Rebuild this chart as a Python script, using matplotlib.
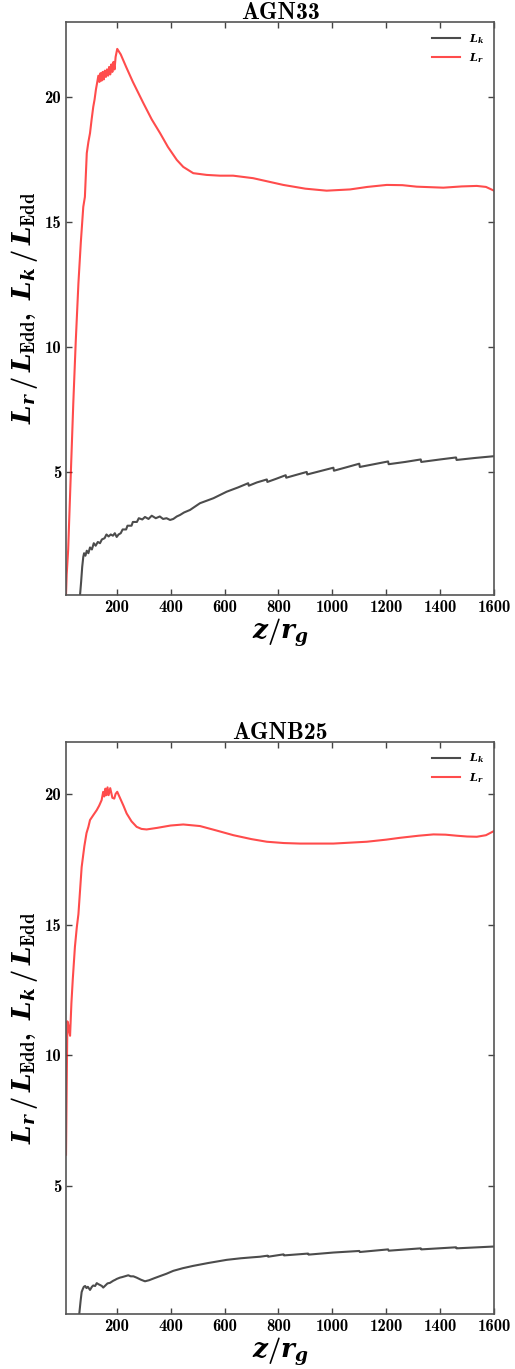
import matplotlib
matplotlib.use("Agg")
import matplotlib.pyplot as plt

plt.rcParams['mathtext.fontset'] = 'custom'
plt.rcParams['mathtext.rm'] = 'cmb10'
plt.rcParams['mathtext.it'] = 'DejaVu Serif:italic:bold'
plt.rcParams['mathtext.bf'] = 'cmb10'

# AGN33
agn33_lr_z = [12, 14.5, 20, 30, 39, 48, 58, 67, 76, 82, 89, 95, 101, 107, 113, 118, 123, 128, 132,
              136, 140, 144, 148, 152, 156, 160, 164, 168, 172, 176, 180, 184, 188, 192, 196, 202,
              215, 235, 260, 299, 330, 361, 390, 423, 447, 484, 534, 583, 632, 706, 760, 818, 900,
              979, 1066, 1130, 1202, 1260, 1313, 1412, 1480, 1536, 1570, 1600]
agn33_lr = [0.1, 0.9, 1.9, 5.0, 7.76, 10.2, 12.55, 14.2, 15.6, 16.0, 17.75, 18.2, 18.55, 19.1, 19.6,
            19.9, 20.3, 20.6, 20.85, 20.6, 20.95, 20.65, 21.0, 20.7, 21.05, 20.8, 21.1, 20.85, 21.2,
            20.9, 21.3, 21.0, 21.4, 21.1, 21.6, 21.92, 21.7, 21.2, 20.6, 19.75, 19.1, 18.55, 18.0,
            17.48, 17.2, 16.95, 16.88, 16.85, 16.85, 16.75, 16.62, 16.48, 16.33, 16.25, 16.3, 16.4,
            16.48, 16.47, 16.41, 16.37, 16.42, 16.44, 16.4, 16.25]
agn33_lk_z = [64, 68, 72, 76, 79, 84, 89, 95, 101, 108, 115, 122, 130, 138, 145, 155, 162, 170, 178,
              186, 193, 200, 207, 215, 222, 235, 240, 255, 260, 275, 282, 295, 305, 318, 330, 345,
              360, 372, 385, 398, 410, 423, 435, 450, 472, 509, 559, 608, 650, 688, 690, 720, 757,
              759, 790, 827, 829, 865, 905, 907, 950, 1004, 1006, 1050, 1100, 1102, 1150, 1207, 1209,
              1270, 1328, 1330, 1400, 1459, 1461, 1530, 1600]
agn33_lk = [0.08, 0.6, 1.2, 1.6, 1.75, 1.65, 1.85, 1.75, 1.98, 1.9, 2.15, 2.05, 2.2, 2.15, 2.3, 2.35,
            2.5, 2.42, 2.5, 2.45, 2.55, 2.4, 2.5, 2.55, 2.7, 2.7, 2.85, 2.85, 3.0, 3.0, 3.15, 3.1, 3.2,
            3.12, 3.25, 3.15, 3.22, 3.12, 3.15, 3.08, 3.12, 3.22, 3.28, 3.38, 3.48, 3.75, 3.95, 4.21,
            4.38, 4.55, 4.45, 4.58, 4.7, 4.6, 4.72, 4.87, 4.77, 4.88, 5.0, 4.9, 5.02, 5.17, 5.05, 5.18,
            5.33, 5.2, 5.3, 5.42, 5.31, 5.4, 5.5, 5.4, 5.5, 5.58, 5.48, 5.56, 5.63]

# AGNB25
agnb25_lr_z = [12, 14, 17, 20, 24, 27, 32, 37, 45, 52, 58, 64, 70, 80, 88, 95, 101, 114, 126, 135,
               144, 150, 154, 158, 162, 166, 170, 176, 184, 191, 196, 202, 212, 225, 237, 255, 274,
               292, 311, 350, 400, 447, 509, 570, 633, 700, 757, 820, 880, 1004, 1128, 1200, 1251,
               1320, 1375, 1420, 1462, 1500, 1536, 1570, 1600]
agnb25_lr = [6.2, 8.3, 11.3, 11.2, 10.9, 10.75, 12.0, 12.9, 14.15, 14.9, 15.4, 16.3, 17.2, 18.0, 18.5,
             18.74, 19.0, 19.2, 19.38, 19.55, 19.76, 20.08, 19.9, 20.2, 19.95, 20.25, 19.95, 20.22,
             19.85, 19.82, 20.0, 20.08, 19.85, 19.55, 19.25, 18.95, 18.74, 18.66, 18.64, 18.7, 18.79,
             18.83, 18.77, 18.6, 18.42, 18.27, 18.17, 18.12, 18.1, 18.1, 18.17, 18.25, 18.32, 18.4,
             18.45, 18.44, 18.4, 18.37, 18.36, 18.42, 18.58]
agnb25_lk_z = [61, 66, 70, 74, 78, 83, 88, 93, 101, 108, 113, 120, 126, 132, 138, 145, 150, 158, 166,
               175, 187, 195, 200, 212, 220, 230, 243, 252, 262, 274, 290, 305, 320, 340, 361, 385,
               410, 445, 484, 540, 608, 660, 695, 732, 760, 762, 819, 821, 910, 912, 1004, 1100, 1102,
               1207, 1209, 1328, 1330, 1459, 1461, 1600]
agnb25_lk = [0.1, 0.6, 0.95, 1.06, 1.15, 1.18, 1.1, 1.15, 1.03, 1.15, 1.2, 1.18, 1.29, 1.25, 1.22,
             1.18, 1.12, 1.2, 1.28, 1.3, 1.38, 1.42, 1.45, 1.5, 1.52, 1.55, 1.59, 1.55, 1.55, 1.5,
             1.42, 1.36, 1.4, 1.48, 1.56, 1.65, 1.76, 1.86, 1.95, 2.06, 2.18, 2.24, 2.27, 2.3, 2.34,
             2.3, 2.39, 2.35, 2.42, 2.38, 2.46, 2.52, 2.48, 2.58, 2.53, 2.62, 2.58, 2.66, 2.62, 2.69]

xticks = [200, 400, 600, 800, 1000, 1200, 1400, 1600]
yticks = [5, 10, 15, 20]

fig = plt.figure(figsize=(5.15, 13.69), dpi=100)
ax1 = fig.add_axes([0.1282, 0.5654, 0.8311, 0.4186])
ax2 = fig.add_axes([0.1282, 0.0400, 0.8311, 0.4183])

panels = [
    (ax1, 'AGN33', agn33_lk_z, agn33_lk, agn33_lr_z, agn33_lr, (0.08, 23)),
    (ax2, 'AGNB25', agnb25_lk_z, agnb25_lk, agnb25_lr_z, agnb25_lr, (0.1, 22)),
]

for ax, name, zk, lk, zr, lr, ylim in panels:
    ax.plot(zk, lk, color='k', alpha=0.7, lw=1.5, label=r'$L_k$')
    ax.plot(zr, lr, color='r', alpha=0.7, lw=1.5, label=r'$L_r$')
    ax.set_xlim(12, 1600)
    ax.set_ylim(*ylim)
    ax.set_xticks(xticks)
    ax.set_yticks(yticks)
    ax.tick_params(direction='in', top=True, right=True, length=4, width=1, colors='#444444',
                   labelcolor='k', labelsize=12)
    for lab in ax.get_xticklabels() + ax.get_yticklabels():
        lab.set_fontfamily('cmb10')
    for sp in ax.spines.values():
        sp.set_color('#555555')
        sp.set_linewidth(1.2)
    ax.set_title(name, fontfamily='cmb10', fontsize=17, pad=2)
    ax.set_xlabel(r'$z/r_g$', fontsize=19, labelpad=1)
    ax.set_ylabel(r'$L_r\,/\,L_{\rm Edd},\;L_k\,/\,L_{\rm Edd}$', fontsize=19, labelpad=3)
    ax.legend(loc='upper right', frameon=False, fontsize=8, handlelength=2.5)

fig.savefig('out.png', dpi=100)
